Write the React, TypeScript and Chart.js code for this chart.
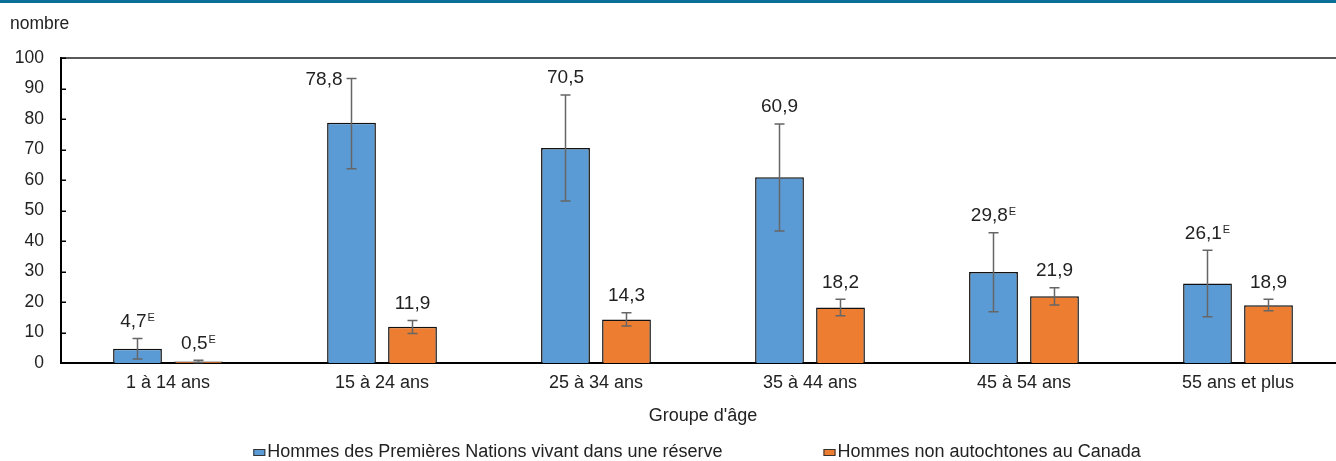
import React, { useEffect, useRef } from "react";
import { Chart, registerables } from "chart.js";

Chart.register(...registerables);

const categories = ["1 à 14 ans", "15 à 24 ans", "25 à 34 ans", "35 à 44 ans", "45 à 54 ans", "55 ans et plus"];
const seriesNames = ["Hommes des Premières Nations vivant dans une réserve", "Hommes non autochtones au Canada"];
const firstNations = [4.7, 78.8, 70.5, 60.9, 29.8, 26.1];
const firstNationsLow = [1.3, 63.7, 53.1, 43.3, 16.8, 15.2];
const firstNationsHigh = [8.0, 93.3, 87.9, 78.4, 42.7, 37.0];
const firstNationsFlag = [true, false, false, false, true, true];
const nonIndigenous = [0.5, 11.9, 14.3, 18.2, 21.9, 18.9];
const nonIndigenousLow = [0.2, 9.7, 12.1, 15.5, 19.0, 17.1];
const nonIndigenousHigh = [0.9, 13.9, 16.5, 20.9, 24.7, 20.9];
const nonIndigenousFlag = [true, false, false, false, false, false];
const yTicks = [0, 10, 20, 30, 40, 50, 60, 70, 80, 90, 100];
const yAxisLabel = "nombre";
const xAxisLabel = "Groupe d'âge";

const errLow = [firstNationsLow, nonIndigenousLow];
const errHigh = [firstNationsHigh, nonIndigenousHigh];
const flags = [firstNationsFlag, nonIndigenousFlag];
const colors = ["#5b9bd5", "#ed7d31"];

const FONT = '"Liberation Sans", Arial, sans-serif';
const TEXT = "#222222";

const overlay = {
  id: "overlay",
  afterDraw(chart: any) {
    const ctx = chart.ctx as CanvasRenderingContext2D;
    const { left, right, top } = chart.chartArea;
    const y = chart.scales.y;
    ctx.save();

    // top band
    ctx.fillStyle = "#0b6f98";
    ctx.fillRect(0, 0, chart.width, 3);

    // y axis unit label
    ctx.fillStyle = TEXT;
    ctx.font = `17.5px ${FONT}`;
    ctx.textAlign = "left";
    ctx.textBaseline = "alphabetic";
    ctx.fillText(yAxisLabel, 10, 29);

    // top frame line
    ctx.strokeStyle = "#222";
    ctx.lineWidth = 1.5;
    ctx.beginPath();
    ctx.moveTo(left, top);
    ctx.lineTo(chart.width, top);
    ctx.stroke();

    // inward ticks
    ctx.strokeStyle = "#000";
    ctx.lineWidth = 1.5;
    ctx.beginPath();
    yTicks.forEach((v) => {
      const py = Math.round(y.getPixelForValue(v)) + 0.25;
      ctx.moveTo(left, py);
      ctx.lineTo(left + 5, py);
    });
    ctx.stroke();

    // error bars
    chart.data.datasets.forEach((ds: any, di: number) => {
      const meta = chart.getDatasetMeta(di);
      meta.data.forEach((bar: any, i: number) => {
        const x = bar.x;
        const yl = y.getPixelForValue(errLow[di][i]);
        const yh = y.getPixelForValue(errHigh[di][i]);
        ctx.strokeStyle = "#666";
        ctx.lineWidth = 1.5;
        ctx.beginPath();
        ctx.moveTo(x, yl);
        ctx.lineTo(x, yh);
        ctx.moveTo(x - 5, yl);
        ctx.lineTo(x + 5, yl);
        ctx.moveTo(x - 5, yh);
        ctx.lineTo(x + 5, yh);
        ctx.stroke();
      });
    });

    // data labels
    chart.data.datasets.forEach((ds: any, di: number) => {
      const meta = chart.getDatasetMeta(di);
      meta.data.forEach((bar: any, i: number) => {
        const v = ds.data[i] as number;
        const txt = v.toFixed(1).replace(".", ",");
        const yh = y.getPixelForValue(errHigh[di][i]);
        ctx.font = `19px ${FONT}`;
        const wNum = ctx.measureText(txt).width;
        ctx.font = `11px ${FONT}`;
        const wE = flags[di][i] ? ctx.measureText("E").width + 1 : 0;
        const total = wNum + wE;
        let cy = yh - 18.5;
        let startX = bar.x - total / 2;
        if (cy < top + 12) {
          cy = yh;
          startX = bar.x - 9 - total;
        }
        const base = cy + 7;
        ctx.fillStyle = TEXT;
        ctx.textAlign = "left";
        ctx.textBaseline = "alphabetic";
        ctx.font = `19px ${FONT}`;
        ctx.fillText(txt, startX, base);
        if (flags[di][i]) {
          ctx.font = `11px ${FONT}`;
          ctx.fillText("E", startX + wNum + 1, cy + 1);
        }
      });
    });

    // legend
    ctx.font = `18px ${FONT}`;
    const widths = seriesNames.map((n) => 14 + ctx.measureText(n).width);
    const gap = 101;
    const totalW = widths[0] + gap + widths[1];
    let lx = (left + right) / 2 - 6 - totalW / 2;
    seriesNames.forEach((n, k) => {
      ctx.fillStyle = colors[k];
      ctx.fillRect(lx, 449, 12, 7);
      ctx.strokeStyle = "#333";
      ctx.lineWidth = 1;
      ctx.strokeRect(lx + 0.5, 449.5, 11, 6);
      ctx.fillStyle = TEXT;
      ctx.textAlign = "left";
      ctx.textBaseline = "alphabetic";
      ctx.fillText(n, lx + 14, 457);
      lx += widths[k] + gap;
    });

    ctx.restore();
  },
};

export default function App() {
  const ref = useRef<HTMLCanvasElement | null>(null);
  useEffect(() => {
    if (!ref.current) return;
    const chart = new Chart(ref.current, {
      type: "bar",
      data: {
        labels: categories,
        datasets: [
          {
            label: seriesNames[0],
            data: firstNations,
            backgroundColor: colors[0],
            borderColor: "#111",
            borderWidth: 1.5,
            categoryPercentage: 0.57,
            barPercentage: 0.8,
          },
          {
            label: seriesNames[1],
            data: nonIndigenous,
            backgroundColor: colors[1],
            borderColor: "#111",
            borderWidth: 1.5,
            categoryPercentage: 0.57,
            barPercentage: 0.8,
          },
        ],
      },
      options: {
        responsive: false,
        animation: false,
        devicePixelRatio: 1,
        layout: { padding: { top: 58, right: 15, bottom: 31, left: 0 } },
        plugins: { legend: { display: false }, tooltip: { enabled: false } },
        scales: {
          x: {
            grid: { display: false, drawTicks: false },
            border: { display: true, color: "#000", width: 2 },
            ticks: { color: TEXT, font: { family: FONT, size: 18 }, padding: 9, maxRotation: 0 },
            title: {
              display: true,
              text: xAxisLabel,
              color: TEXT,
              font: { family: FONT, size: 18 },
              padding: { top: 0, bottom: 3 },
            },
            afterFit: (s: any) => {
              s.height = 67;
            },
          },
          y: {
            min: 0,
            max: 100,
            grid: { display: false, drawTicks: false },
            border: { display: true, color: "#000", width: 2 },
            ticks: {
              stepSize: 10,
              color: TEXT,
              font: { family: FONT, size: 17.5 },
              padding: 17,
            },
            afterFit: (s: any) => {
              s.width = 61;
            },
          },
        },
      },
      plugins: [overlay],
    });
    return () => chart.destroy();
  }, []);
  return (
    <div style={{ position: "absolute", left: 0, top: 0, width: 1336, height: 461, overflow: "hidden", background: "#fff" }}>
      <canvas ref={ref} width={1360} height={461} style={{ width: 1360, height: 461, display: "block" }} />
    </div>
  );
}
